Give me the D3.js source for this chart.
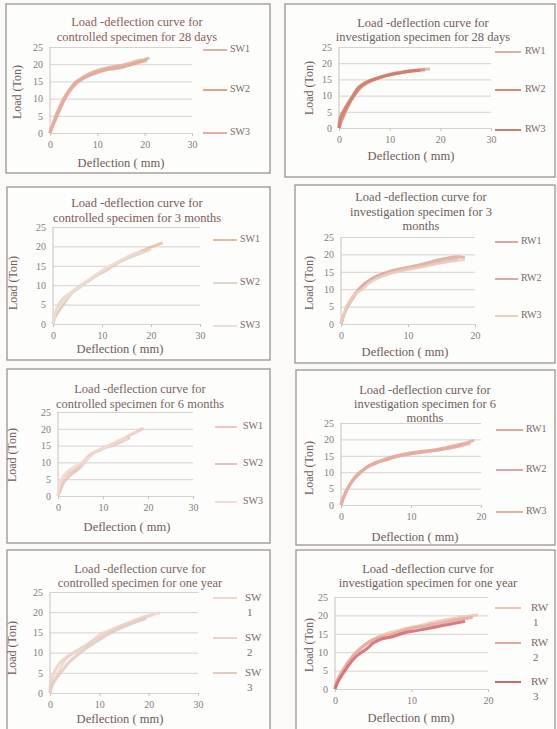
<!DOCTYPE html>
<html><head><meta charset="utf-8">
<script src="https://cdn.jsdelivr.net/npm/d3@7"></script>
<style>body{margin:0;background:#fbfaf9}svg{display:block}</style>
</head><body>
<svg id="c" width="557" height="729"></svg>
<script>
// ---------- DATA ----------
const yTickValues = [0, 5, 10, 15, 20, 25];
const xTicks30 = [0, 10, 20, 30];
const xTicks20 = [0, 10, 20];
const xAxisLabel = "Deflection ( mm)";
const yAxisLabel = "Load (Ton)";
const legendControl = ["SW1", "SW2", "SW3"];
const legendInvest = ["RW1", "RW2", "RW3"];
const titles = [
  ["Load -deflection curve for", "controlled specimen for 28 days"],
  ["Load -deflection curve for", "investigation specimen for 28 days"],
  ["Load -deflection curve for", "controlled specimen for 3 months"],
  ["Load -deflection curve for", "investigation specimen for 3", "months"],
  ["Load -deflection curve for", "controlled specimen for 6 months"],
  ["Load -deflection curve for", "investigation specimen for 6", "months"],
  ["Load -deflection curve for", "controlled specimen for one year"],
  ["Load -deflection curve for", "investigation specimen for one year"]
];
// [deflection (mm), load (Ton)]
const ctrl28_SW1 = [[0,0],[0.5,2.2],[1,4.2],[2,7.6],[3,10.3],[4,12.4],[5,14.2],[6,15.4],[7,16.3],[8.5,17.4],[10,18.2],[12,18.9],[14,19.4],[16,20],[18,20.8],[20,21.4],[21,21.8]];
const ctrl28_SW2 = [[0,0],[0.8,2.8],[1.5,5],[2.5,8.2],[3.5,11],[4.5,13],[5.5,14.6],[7,15.9],[8.5,16.8],[10,17.6],[12,18.4],[13.5,18.7],[15,19],[17,19.8],[19,20.6],[20.5,21.2]];
const ctrl28_SW3 = [[0,0],[0.3,1.5],[1,3.6],[2,6.8],[3,9.6],[4,11.8],[5,13.6],[6.5,15.4],[8,16.6],[10,17.8],[12,18.6],[14,19.2],[15.5,19.4],[17,19.9]];

const inv28_RW1 = [[0,0],[0.3,1.5],[1,4],[2,7.5],[3,10],[4,12.3],[5,13.6],[6.5,14.8],[8,15.7],[10,16.6],[12,17.2],[14,17.7],[16,18],[18,18.2]];
const inv28_RW2 = [[0,0],[0.5,2.5],[1.2,5],[2.2,8],[3.2,10.5],[4.2,12.4],[5.5,13.8],[7,14.9],[9,16],[11,16.8],[13,17.3],[15,17.7],[17,18]];
const inv28_RW3 = [[0,0],[0.2,3],[0.8,5],[1.8,7.7],[2.8,10.2],[3.8,12.5],[5,13.9],[6,14.6],[8,15.6],[10,16.4],[12,17],[14,17.5],[16,17.8]];

const ctrl3m_SW1 = [[0,0],[0.5,2],[1.4,3.8],[2.5,5.8],[4,8.2],[5.5,9.8],[7.6,11.4],[9,12.6],[11,14],[13,15.6],[14.5,16.6],[16,17.6],[18,18.7],[20,19.8],[22.4,20.9]];
const ctrl3m_SW2 = [[0,0],[0.3,2.5],[1,4.5],[2,6.5],[3.5,8],[5,9],[6.5,10.5],[8,11.8],[10,13.4],[12,15],[14,16.3],[16,17.3],[18,18.3],[20,19.3]];
const ctrl3m_SW3 = [[0,0],[0.2,1.5],[0.8,3.5],[2,5.5],[3,7],[4.5,8.8],[6,10.2],[8,12],[10,13.8],[12,15.2],[14,16.5],[16,17.8],[18,18.8]];

const inv3m_RW1 = [[0,0],[0.5,3],[1,5.5],[1.5,7],[2.2,9],[3,10.6],[4,12.2],[5,13.5],[6.5,14.6],[8,15.5],[10,16.3],[11.5,16.9],[13,17.6],[14.5,18.4],[16,19],[17.5,19.3],[18.5,19]];
const inv3m_RW2 = [[0,0],[0.4,2.5],[1,5],[1.8,7.5],[2.5,9.5],[3.5,11.5],[4.5,12.8],[6,14],[8,15.1],[10,15.9],[12,16.6],[14,17.4],[16,18.2],[17.5,18.5]];
const inv3m_RW3 = [[0,0],[0.3,2],[0.8,4.5],[1.5,7],[2.2,8.8],[3.2,10],[4.2,11.8],[5.5,13.2],[7,14.3],[9,15.3],[11,16],[13,16.8],[15,17.6],[17,18.2],[18.5,18.6]];

const ctrl6m_SW1 = [[0,0],[0.4,2.5],[1.1,5.3],[2.5,7],[4.2,8.3],[5.5,10],[7.1,12.2],[9,13.6],[11.6,15.2],[13.5,16.4],[15.3,17.6],[17,18.8],[19,20.2]];
const ctrl6m_SW2 = [[0,0],[0.6,2],[1.5,4.5],[3,6.5],[4.5,8],[6,10.2],[7.5,12.5],[9.5,13.8],[11,14.6],[13,15.5],[14.5,16.5],[16,17.4]];
const ctrl6m_SW3 = [[0,0],[0.3,3],[1,5.5],[2,7.2],[3.5,8.6],[5,9.5],[6.5,11],[8,12.8],[10,14.2],[12,15.4],[14,16.8],[15.5,17.2]];

const inv6m_RW1 = [[0,0],[0.4,2.5],[1,5.2],[1.7,7.5],[2.4,9.1],[3.3,10.8],[4.3,12.2],[5.5,13.3],[6.7,14.3],[8.3,15.2],[10,15.9],[11.7,16.4],[13.4,16.8],[15,17.5],[16.7,18.3],[18,19],[19,19.8]];
const inv6m_RW2 = [[0,0],[0.3,2],[0.8,4.5],[1.5,7],[2.2,9],[3,10.5],[4,12],[5,13],[6.5,13.8],[8,14.8],[10,15.6],[12,16.2],[14,16.8],[16,17.6],[17.5,18.4]];
const inv6m_RW3 = [[0,0],[0.5,3],[1.2,6],[2,8.5],[3,10.4],[4,11.8],[5.5,13.2],[7,14.4],[9,15.3],[11,16],[13,16.6],[15,17.2],[17,18],[18.5,18.8]];

const ctrl1y_SW1 = [[0,0],[0.4,2.5],[1.4,4.4],[2.4,6.8],[3.4,8.7],[5,10],[6.8,11.2],[8.5,12.8],[10.1,14.4],[12.8,15.9],[15.6,17.3],[18,18.4],[20.3,19.3],[22.3,19.8]];
const ctrl1y_SW2 = [[0,0],[0.3,3.5],[1,5.5],[2,7.5],[3.5,9],[5.5,10.5],[7.5,12],[9.5,13.6],[12,15.2],[14.5,16.6],[17,17.8],[19.5,18.8],[21,19.4]];
const ctrl1y_SW3 = [[0,0],[0.5,2],[1.5,4],[2.8,6],[4,7.8],[6,9.8],[8,11.6],[10,13.2],[12.5,15],[15,16.4],[17.5,17.6],[19.5,18.5]];

const inv1y_RW1 = [[0,0],[0.5,3],[1.3,6],[2,8.2],[3,10.6],[3.8,12],[4.8,13.3],[6,14.5],[7.5,15.5],[8.8,16.2],[10,16.8],[11.5,17.4],[13,18.2],[14.5,18.8],[16,19.3],[17.5,19.8],[18.7,20.1]];
const inv1y_RW2 = [[0,0],[0.3,2.5],[1,5],[1.8,7.5],[2.6,9.5],[3.5,11.2],[4.5,12.8],[5.5,13.8],[7,14.6],[8.5,15.6],[10,16.5],[12,17.2],[14,18],[16,18.8],[18,19.4]];
const inv1y_RW3 = [[0,0],[0.4,2],[1,4],[1.8,6.5],[2.6,8.5],[3.5,10],[4.2,11],[5,12.5],[6,13.5],[7.5,14.2],[9,15.2],[11,16],[13,16.8],[15,17.6],[17,18.4]];

const panelSeries = [
  [ctrl28_SW1, ctrl28_SW2, ctrl28_SW3],
  [inv28_RW1, inv28_RW2, inv28_RW3],
  [ctrl3m_SW1, ctrl3m_SW2, ctrl3m_SW3],
  [inv3m_RW1, inv3m_RW2, inv3m_RW3],
  [ctrl6m_SW1, ctrl6m_SW2, ctrl6m_SW3],
  [inv6m_RW1, inv6m_RW2, inv6m_RW3],
  [ctrl1y_SW1, ctrl1y_SW2, ctrl1y_SW3],
  [inv1y_RW1, inv1y_RW2, inv1y_RW3]
];
const panelXMax = [30, 30, 30, 20, 30, 20, 30, 20];
const panelLegends = [legendControl, legendInvest, legendControl, legendInvest, legendControl, legendInvest, legendControl, legendInvest];

// ---------- LAYOUT & STYLE ----------
const layout = [
  {box:[6,4,264,169], x:[50,192], y:[133,47], title:[137,[23,38]], ylab:[18,92], xlab:[121,164], leg:[203,227,230,[50,90,133]], split:false},
  {box:[285,4,270,173], x:[339,491], y:[128,47], title:[423,[24,38]], ylab:[310,88], xlab:[411,157], leg:[495,521,525,[52,90,130]], split:false},
  {box:[7,187,263,173], x:[53,200], y:[324,227], title:[137,[204,219]], ylab:[14,283], xlab:[120,350], leg:[213,237,240,[240,283,326]], split:false},
  {box:[295,185,260,178], x:[341,475], y:[324,237], title:[421,[198,213,227]], ylab:[310,283], xlab:[405,353], leg:[495,518,521,[242,279,316]], split:false},
  {box:[7,369,263,174], x:[58,193], y:[496,412], title:[140,[390,405]], ylab:[13,455], xlab:[127,528], leg:[215,237,243,[427,464,502]], split:false},
  {box:[296,370,259,175], x:[341,481], y:[505,423], title:[425,[391,405,419]], ylab:[310,468], xlab:[415,538], leg:[496,523,526,[430,470,512]], split:false},
  {box:[7,550,263,190], x:[50,198], y:[693,592], title:[140,[570,584]], ylab:[13,648], xlab:[120,720], leg:[213,237,245,[598,638,673]], split:true},
  {box:[296,550,259,190], x:[335,488], y:[689,597], title:[428,[570,584]], ylab:[310,645], xlab:[411,719], leg:[495,521,531,[608,643,682]], split:true}
];
const seriesColors = [
  ["#d9b4a4","#e3a47e","#e4aca4"],
  ["#dcb0a6","#d68a76","#cf7a6a"],
  ["#e6bc9c","#e2d6c4","#ecdcd8"],
  ["#e0a6a0","#d8aaa4","#ecceb8"],
  ["#eec8c0","#e8c2ba","#f0dcd4"],
  ["#e4a898","#dca4a4","#e6ae9e"],
  ["#f0d8c8","#ead2c8","#e2cac2"],
  ["#eec4b4","#e2aa9c","#d2646a"]
];
const titleColors = ["#8a5c58","#6e5e5a","#7a5a56","#6e5e5a","#7a6462","#6e5e5a","#7a6462","#6e5e5a"];
const FONT = "'Liberation Serif', 'DejaVu Serif', serif";

const svg = d3.select("#c");

layout.forEach((L, i) => {
  const g = svg.append("g");
  const [bx, by, bw, bh] = L.box;
  g.append("rect").attr("x", bx).attr("y", by).attr("width", bw).attr("height", bh)
    .attr("fill", "#fdfdfc").attr("stroke", "#9a9490").attr("stroke-width", 1.3);

  const x = d3.scaleLinear().domain([0, panelXMax[i]]).range(L.x);
  const y = d3.scaleLinear().domain([0, 25]).range(L.y);
  const xt = panelXMax[i] === 30 ? xTicks30 : xTicks20;

  // gridlines + y labels
  const ya = g.append("g").attr("transform", `translate(${L.x[0]},0)`)
    .call(d3.axisLeft(y).tickValues(yTickValues).tickSize(-(L.x[1] - L.x[0])).tickPadding(7));
  ya.select(".domain").remove();
  ya.selectAll(".tick line").attr("stroke", "#d6d2d0").attr("stroke-width", 1);
  ya.selectAll(".tick text").attr("fill", "#857a78").style("font-family", FONT).style("font-size", "10px");

  // vertical axis line
  g.append("line").attr("x1", L.x[0]).attr("x2", L.x[0]).attr("y1", y(0)).attr("y2", y(25))
    .attr("stroke", "#c8c2c0").attr("stroke-width", 1);

  const xa = g.append("g").attr("transform", `translate(0,${L.y[0]})`)
    .call(d3.axisBottom(x).tickValues(xt).tickSize(3).tickPadding(5));
  xa.select(".domain").remove();
  xa.selectAll(".tick line").attr("stroke", "#c8c2c0");
  xa.selectAll(".tick text").attr("fill", "#857a78").style("font-family", FONT).style("font-size", "10px");

  // series
  const line = d3.line().x(d => x(d[0])).y(d => y(d[1])).curve(d3.curveCatmullRom);
  panelSeries[i].forEach((s, k) => {
    g.append("path").datum(s).attr("d", line).attr("fill", "none")
      .attr("stroke", seriesColors[i][k]).attr("stroke-width", 3)
      .attr("stroke-opacity", 0.85).attr("stroke-linejoin", "round");
  });

  // title
  L.title[1].forEach((ty, j) => {
    g.append("text").attr("x", L.title[0]).attr("y", ty).attr("text-anchor", "middle")
      .attr("dominant-baseline", "middle").attr("fill", titleColors[i])
      .style("font-family", FONT).style("font-size", "12.5px").text(titles[i][j]);
  });

  // axis labels
  g.append("text").attr("transform", `translate(${L.ylab[0]},${L.ylab[1]}) rotate(-90)`)
    .attr("text-anchor", "middle").attr("dominant-baseline", "middle").attr("fill", "#6e5a58")
    .style("font-family", FONT).style("font-size", "12px").text(yAxisLabel);
  g.append("text").attr("x", L.xlab[0]).attr("y", L.xlab[1]).attr("text-anchor", "middle")
    .attr("dominant-baseline", "middle").attr("fill", "#6e5a58")
    .style("font-family", FONT).style("font-size", "12.5px").text(xAxisLabel);

  // legend
  const [lx0, lx1, tx, lys] = L.leg;
  panelLegends[i].forEach((name, k) => {
    const ly = lys[k];
    g.append("line").attr("x1", lx0).attr("x2", lx1).attr("y1", ly).attr("y2", ly)
      .attr("stroke", seriesColors[i][k]).attr("stroke-width", 2);
    if (L.split) {
      g.append("text").attr("x", tx).attr("y", ly).attr("dominant-baseline", "middle")
        .attr("fill", "#7a6866").style("font-family", FONT).style("font-size", "11px").text(name.slice(0, 2));
      g.append("text").attr("x", tx + 2).attr("y", ly + 15).attr("dominant-baseline", "middle")
        .attr("fill", "#7a6866").style("font-family", FONT).style("font-size", "11px").text(name.slice(2));
    } else {
      g.append("text").attr("x", tx).attr("y", ly).attr("dominant-baseline", "middle")
        .attr("fill", "#7a6866").style("font-family", FONT).style("font-size", "10px").text(name);
    }
  });
});
</script>
</body></html>
